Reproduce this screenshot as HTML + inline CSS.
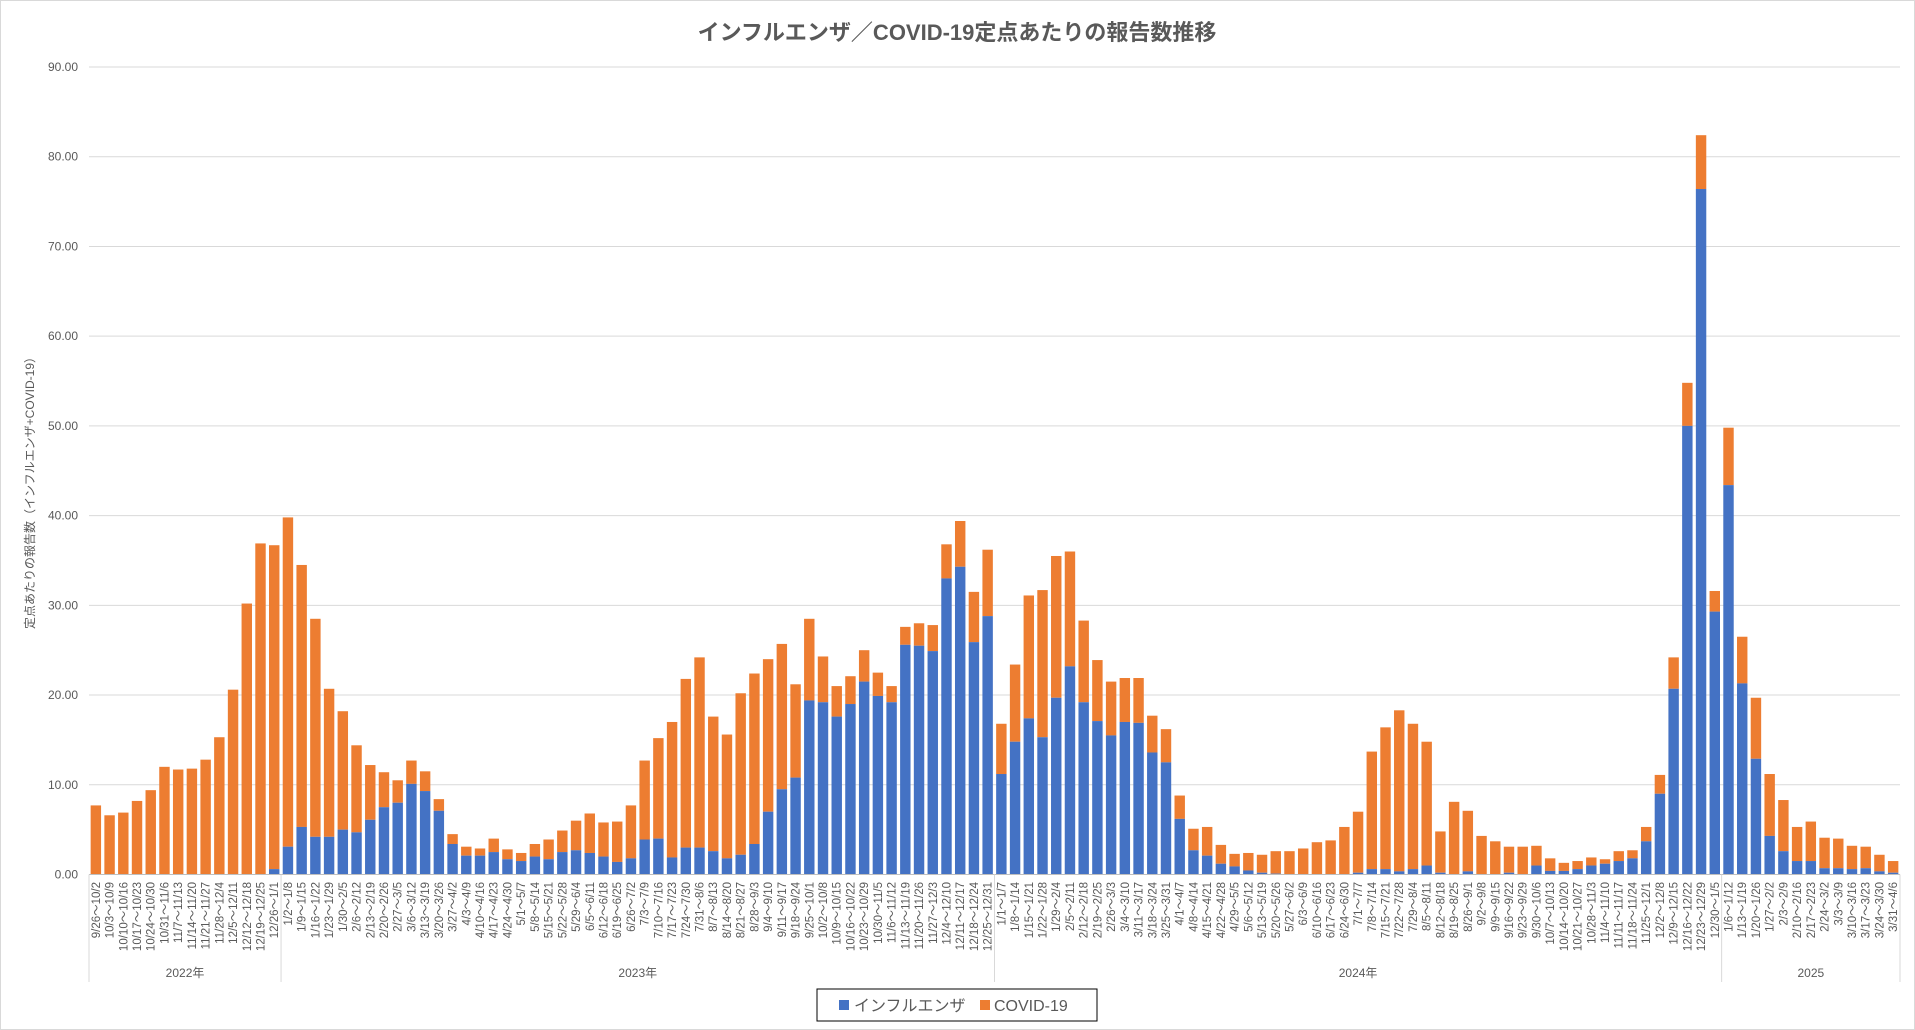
<!DOCTYPE html>
<html><head><meta charset="utf-8"><style>
html,body{margin:0;padding:0;background:#fff}
svg{display:block}
text{font-family:"Liberation Sans","Noto Sans CJK JP",sans-serif;fill:#595959}
</style></head><body>
<svg id="c" width="1915" height="1030" xmlns="http://www.w3.org/2000/svg">
<rect x="0.5" y="0.5" width="1914" height="1029" fill="#fff" stroke="#d9d9d9"/>
<text x="957" y="40" text-anchor="middle" font-size="22" font-weight="bold">インフルエンザ／COVID-19定点あたりの報告数推移</text>
<text transform="translate(34,490) rotate(-90)" text-anchor="middle" font-size="12">定点あたりの報告数（インフルエンザ+COVID-19）</text>
<g id="g"></g>
<rect x="817" y="989" width="280" height="32" fill="#fff" stroke="#000" stroke-width="1"/>
<rect x="839" y="1000" width="10" height="10" fill="#4472C4"/>
<text x="854" y="1011" font-size="16">インフルエンザ</text>
<rect x="980" y="1000" width="10" height="10" fill="#ED7D31"/>
<text x="994" y="1011" font-size="16">COVID-19</text>
</svg>
<script>
var D=[[7.7,0],[6.6,0],[6.9,0],[8.2,0],[9.4,0],[12.0,0],[11.7,0],[11.8,0],[12.8,0],[15.3,0],[20.6,0],[30.2,0],[36.9,0],[36.7,0.6],
[39.8,3.1],[34.5,5.3],[28.5,4.2],[20.7,4.2],[18.2,5.0],[14.4,4.7],[12.2,6.1],[11.4,7.5],[10.5,8.0],[12.7,10.1],[11.5,9.3],[8.4,7.1],[4.5,3.4],[3.1,2.1],[2.9,2.1],[4.0,2.5],[2.8,1.7],[2.4,1.5],[3.4,2.0],[3.9,1.7],[4.9,2.5],[6.0,2.7],[6.8,2.4],[5.8,2.0],[5.9,1.4],[7.7,1.8],[12.7,3.9],[15.2,4.0],[17.0,1.9],[21.8,3.0],[24.2,3.0],[17.6,2.6],[15.6,1.8],[20.2,2.2],[22.4,3.4],[24.0,7.0],[25.7,9.5],[21.2,10.8],[28.5,19.4],[24.3,19.2],[21.0,17.6],[22.1,19.0],[25.0,21.5],[22.5,19.9],[21.0,19.2],[27.6,25.6],[28.0,25.5],[27.8,24.9],[36.8,33.0],[39.4,34.3],[31.5,25.9],[36.2,28.8],
[16.8,11.2],[23.4,14.8],[31.1,17.4],[31.7,15.3],[35.5,19.7],[36.0,23.2],[28.3,19.2],[23.9,17.1],[21.5,15.5],[21.9,17.0],[21.9,16.9],[17.7,13.6],[16.2,12.5],[8.8,6.2],[5.1,2.7],[5.3,2.1],[3.3,1.2],[2.3,0.9],[2.4,0.45],[2.2,0.2],[2.6,0.1],[2.6,0],[2.9,0],[3.6,0],[3.8,0],[5.3,0],[7.0,0.2],[13.7,0.6],[16.4,0.6],[18.3,0.35],[16.8,0.6],[14.8,1.0],[4.8,0.2],[8.1,0],[7.1,0.35],[4.3,0],[3.7,0],[3.1,0.2],[3.1,0],[3.2,1.0],[1.8,0.4],[1.3,0.4],[1.5,0.6],[1.9,1.0],[1.7,1.2],[2.6,1.5],[2.7,1.8],[5.3,3.7],[11.1,9.0],[24.2,20.7],[54.8,50.0],[82.4,76.4],[31.6,29.3],
[49.8,43.4],[26.5,21.3],[19.7,12.9],[11.2,4.3],[8.3,2.6],[5.3,1.5],[5.9,1.5],[4.1,0.7],[4.0,0.7],[3.2,0.6],[3.1,0.7],[2.2,0.35],[1.5,0.2]];
var L=89,R=1900,Y0=874.5,PX=(874.5-67)/90,n=D.length,cw=(R-L)/n,bw=cw*0.76,s='';
for(var i=0;i<=9;i++){var y=Y0-i*10*PX;s+='<line x1="'+L+'" x2="'+R+'" y1="'+y+'" y2="'+y+'" stroke="#d9d9d9"/>';
s+='<text x="78" y="'+(y+4)+'" text-anchor="end" font-size="12">'+(i*10).toFixed(2)+'</text>';}
var d=new Date(2022,8,26);
for(var i=0;i<n;i++){var x=L+i*cw+(cw-bw)/2,t=D[i][0],f=D[i][1];
s+='<rect x="'+x+'" y="'+(Y0-t*PX)+'" width="'+bw+'" height="'+((t-f)*PX)+'" fill="#ED7D31"/>';
if(f>0)s+='<rect x="'+x+'" y="'+(Y0-f*PX)+'" width="'+bw+'" height="'+(f*PX)+'" fill="#4472C4"/>';
var e=new Date(d.getTime()+6*864e5);
var lb=(d.getMonth()+1)+'/'+d.getDate()+'～'+(e.getMonth()+1)+'/'+e.getDate();
var cx=L+i*cw+cw/2+4;
s+='<text transform="translate('+cx+',882) rotate(-90)" text-anchor="end" font-size="11.5">'+lb+'</text>';
d=new Date(d.getTime()+7*864e5);}
s+='<line x1="'+L+'" x2="'+R+'" y1="'+Y0+'" y2="'+Y0+'" stroke="#bfbfbf"/>';
var sep=[0,14,66,119,132],yrs=['2022年','2023年','2024年','2025'];
for(var k=0;k<sep.length;k++){var x=L+sep[k]*cw;s+='<line x1="'+x+'" x2="'+x+'" y1="'+Y0+'" y2="982" stroke="#d9d9d9"/>';
if(k<4){var m=L+(sep[k]+sep[k+1])/2*cw;s+='<text x="'+m+'" y="977" text-anchor="middle" font-size="12">'+yrs[k]+'</text>';}}
document.getElementById('g').innerHTML=s;
</script>
</body></html>
